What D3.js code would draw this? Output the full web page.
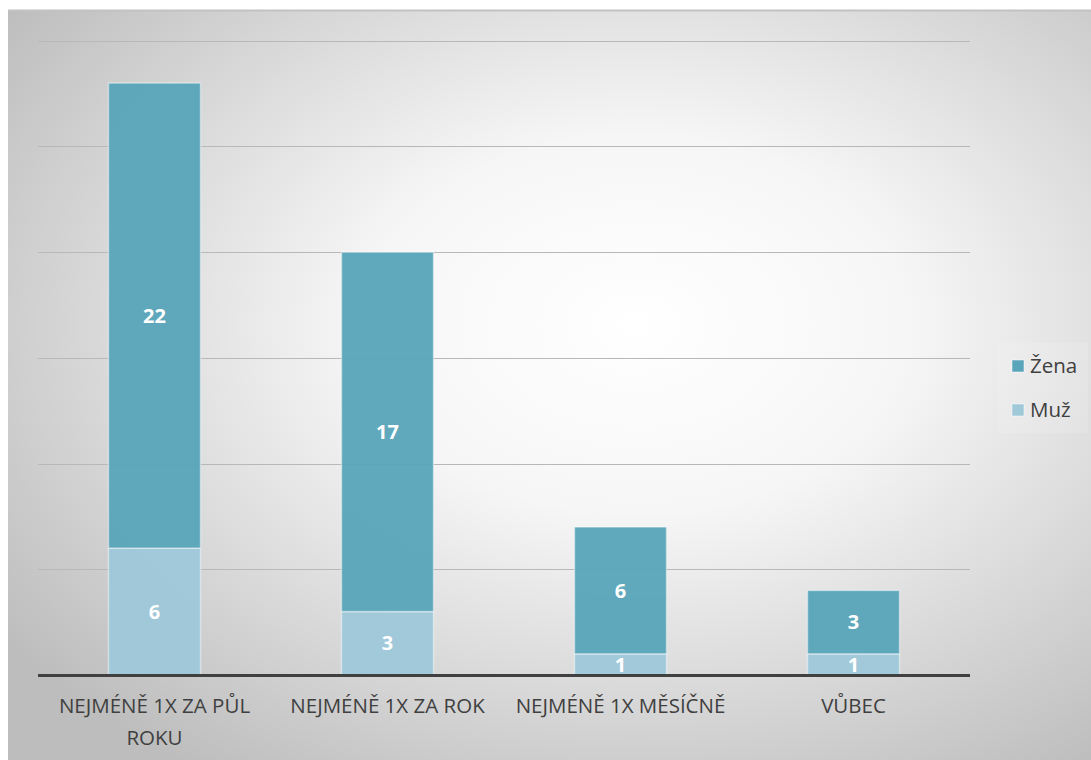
<!DOCTYPE html>
<html>
<head>
<meta charset="utf-8">
<script src="https://cdnjs.cloudflare.com/ajax/libs/d3/7.8.5/d3.min.js"></script>
<style>
  body { margin: 0; background: #fff; }
  text { font-family: "Open Sans", "Noto Sans", sans-serif; }
</style>
</head>
<body>
<div id="chart"></div>
<script>
// data
const categories = ["NEJMÉNĚ 1X ZA PŮL ROKU", "NEJMÉNĚ 1X ZA ROK", "NEJMÉNĚ 1X MĚSÍČNĚ", "VŮBEC"];
const muz = [6, 3, 1, 1];
const zena = [22, 17, 6, 3];
const seriesNames = ["Muž", "Žena"];
const seriesColors = ["#9fc8d8", "#5aa5b9"];
const yTicks = [0, 5, 10, 15, 20, 25, 30];

const W = 1091, H = 760;
const frame = {x: 8, y: 10, w: W - 8, h: H - 10};
const margin = {top: 40, right: 121, bottom: 85, left: 38};
const labelSize = 20.5;

const svg = d3.select("#chart").append("svg")
    .attr("width", W)
    .attr("height", H);

// background gradient, light in the middle, grey at the edges
const defs = svg.append("defs");
const grad = defs.append("radialGradient")
    .attr("id", "bg")
    .attr("cx", "58%").attr("cy", "42%").attr("r", "72%");
grad.append("stop").attr("offset", "0%").attr("stop-color", "#ffffff");
grad.append("stop").attr("offset", "35%").attr("stop-color", "#f6f6f6");
grad.append("stop").attr("offset", "100%").attr("stop-color", "#bdbdbd");

svg.append("rect")
    .attr("x", frame.x).attr("y", frame.y)
    .attr("width", frame.w).attr("height", frame.h)
    .attr("fill", "url(#bg)");
svg.append("line")
    .attr("x1", frame.x).attr("x2", W)
    .attr("y1", frame.y + 0.5).attr("y2", frame.y + 0.5)
    .attr("stroke", "#c2c2c2").attr("stroke-width", 2);

const x = d3.scaleBand()
    .domain(categories)
    .range([margin.left, W - margin.right])
    .paddingInner(0.605)
    .paddingOuter(0.3025);

const y = d3.scaleLinear()
    .domain([0, 30])
    .range([675, 675 - 30 * 21.14]);

// gridlines
svg.append("g")
    .selectAll("line")
    .data(yTicks.slice(1))
    .join("line")
    .attr("x1", margin.left).attr("x2", W - margin.right)
    .attr("y1", d => Math.round(y(d)) + 0.5)
    .attr("y2", d => Math.round(y(d)) + 0.5)
    .attr("stroke", "#b8b8b8")
    .attr("stroke-width", 1);

// stacked bars
const rows = categories.map((c, i) => ({cat: c, "Muž": muz[i], "Žena": zena[i]}));
const stack = d3.stack().keys(seriesNames)(rows);

const layers = svg.append("g")
    .selectAll("g")
    .data(stack)
    .join("g")
    .attr("fill", (d, i) => seriesColors[i]);

layers.selectAll("rect")
    .data(d => d)
    .join("rect")
    .attr("x", d => x(d.data.cat))
    .attr("y", d => y(d[1]))
    .attr("width", x.bandwidth())
    .attr("height", d => y(d[0]) - y(d[1]))
    .attr("fill-opacity", 0.96)
    .attr("stroke", "#ffffff")
    .attr("stroke-opacity", 0.45)
    .attr("stroke-width", 1.5);

layers.selectAll("text")
    .data(d => d)
    .join("text")
    .attr("x", d => x(d.data.cat) + x.bandwidth() / 2)
    .attr("y", d => (y(d[0]) + y(d[1])) / 2)
    .attr("dy", "0.36em")
    .attr("text-anchor", "middle")
    .attr("fill", "#fff")
    .attr("font-size", 20)
    .attr("font-weight", "bold")
    .text(d => d[1] - d[0]);

// x axis line
svg.append("line")
    .attr("x1", margin.left).attr("x2", W - margin.right)
    .attr("y1", y(0) + 0.5).attr("y2", y(0) + 0.5)
    .attr("stroke", "#404040")
    .attr("stroke-width", 3);

// category labels, wrapped to the band step
function wrap(label, maxW) {
    const words = label.split(" ");
    const lines = [];
    let cur = "";
    const probe = svg.append("text").attr("font-size", labelSize);
    words.forEach(w => {
        const t = cur ? cur + " " + w : w;
        probe.text(t);
        if (probe.node().getComputedTextLength() > maxW && cur) {
            lines.push(cur);
            cur = w;
        } else cur = t;
    });
    lines.push(cur);
    probe.remove();
    return lines;
}

const labels = svg.append("g")
    .selectAll("text")
    .data(categories)
    .join("text")
    .attr("x", d => x(d) + x.bandwidth() / 2)
    .attr("y", 713)
    .attr("text-anchor", "middle")
    .attr("fill", "#404040")
    .attr("font-size", labelSize);
labels.each(function (d) {
    const lines = wrap(d, x.step() - 10);
    d3.select(this).selectAll("tspan")
        .data(lines)
        .join("tspan")
        .attr("x", x(d) + x.bandwidth() / 2)
        .attr("dy", (l, i) => i === 0 ? 0 : 32)
        .text(l => l);
});

// legend
svg.append("rect")
    .attr("x", 998).attr("y", 343)
    .attr("width", 90).attr("height", 90)
    .attr("fill", "#ffffff")
    .attr("fill-opacity", 0.12);

const legendOrder = [1, 0];
const legend = svg.append("g")
    .selectAll("g")
    .data(legendOrder)
    .join("g")
    .attr("transform", (d, i) => `translate(1012,${366 + i * 44})`);
legend.append("rect")
    .attr("x", 0).attr("y", -6)
    .attr("width", 12).attr("height", 12)
    .attr("fill", d => seriesColors[d])
    .attr("stroke", "#ffffff")
    .attr("stroke-opacity", 0.5);
legend.append("text")
    .attr("x", 18)
    .attr("dy", "0.35em")
    .attr("fill", "#404040")
    .attr("font-size", 20.5)
    .text(d => seriesNames[d]);
</script>
</body>
</html>
